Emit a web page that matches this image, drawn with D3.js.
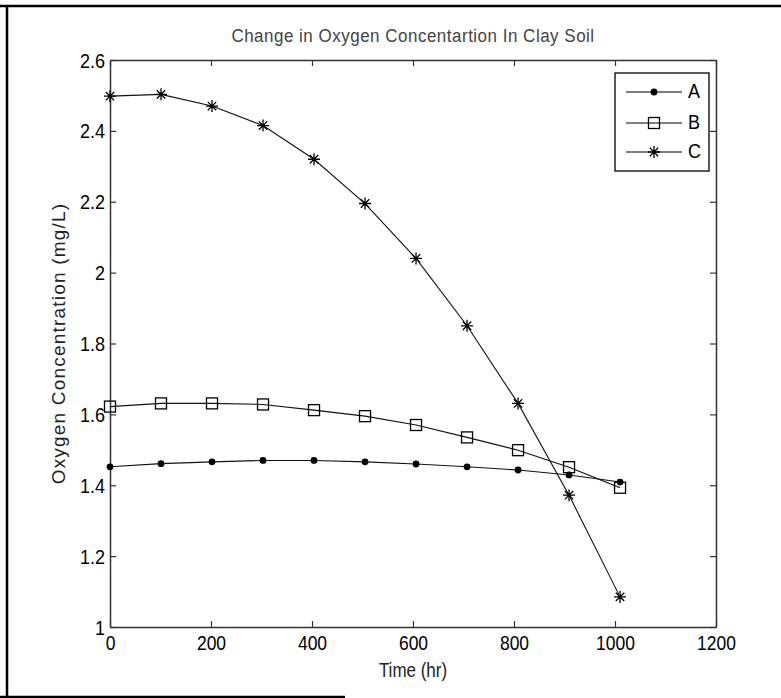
<!DOCTYPE html>
<html>
<head>
<meta charset="utf-8">
<script src="https://cdn.jsdelivr.net/npm/d3@7"></script>
<style>
  body { margin: 0; background: #fff; }
  svg { display: block; font-family: "Liberation Sans", Arial, sans-serif; }
</style>
</head>
<body>
<div id="chart"></div>
<script>
// values
var time = [0, 101, 202, 303, 404, 505, 606, 707, 808, 909, 1010];
var seriesA = [1.452, 1.461, 1.466, 1.470, 1.470, 1.466, 1.460, 1.452, 1.443, 1.429, 1.409];
var seriesB = [1.622, 1.631, 1.631, 1.628, 1.612, 1.595, 1.570, 1.535, 1.499, 1.451, 1.393];
var seriesC = [2.498, 2.503, 2.470, 2.415, 2.320, 2.195, 2.040, 1.850, 1.631, 1.372, 1.085];
var seriesNames = ["A", "B", "C"];
var xTicks = [0, 200, 400, 600, 800, 1000, 1200];
var yTicks = [1, 1.2, 1.4, 1.6, 1.8, 2, 2.2, 2.4, 2.6];

var W = 781, H = 698;
var plotL = 110, plotR = 716, plotT = 60, plotB = 627;

var svg = d3.select("#chart").append("svg")
  .attr("width", W)
  .attr("height", H);

svg.append("rect").attr("width", W).attr("height", H).attr("fill", "#fff");

// outer frame
svg.append("path")
  .attr("d", "M0,6 H781 M7,6 V697 M0,697 H345")
  .attr("stroke", "#000").attr("stroke-width", 2.5).attr("fill", "none");

var x = d3.scaleLinear().domain([0, 1200]).range([plotL, plotR]);
var y = d3.scaleLinear().domain([1, 2.6]).range([plotB, plotT]);

var ink = "#333";

// axes with inside ticks (matlab style)
var gx = svg.append("g").attr("transform", "translate(0," + plotB + ")")
  .call(d3.axisBottom(x).tickValues(xTicks).tickSizeInner(-6).tickSizeOuter(0).tickPadding(0).tickFormat(d3.format("d")));
var gy = svg.append("g").attr("transform", "translate(" + plotL + ",0)")
  .call(d3.axisLeft(y).tickValues(yTicks).tickSizeInner(-6).tickSizeOuter(0).tickPadding(5).tickFormat(function (d) { return d3.format("")(d); }));
var gt = svg.append("g").attr("transform", "translate(0," + plotT + ")")
  .call(d3.axisTop(x).tickValues(xTicks).tickSizeInner(-6).tickSizeOuter(0).tickFormat(""));
var gr = svg.append("g").attr("transform", "translate(" + plotR + ",0)")
  .call(d3.axisRight(y).tickValues(yTicks).tickSizeInner(-6).tickSizeOuter(0).tickFormat(""));

[gx, gy, gt, gr].forEach(function (g) {
  g.select(".domain").attr("stroke", ink).attr("stroke-width", 1.5);
  g.selectAll(".tick line").attr("stroke", ink).attr("stroke-width", 1.2);
});

gx.selectAll(".tick text")
  .attr("fill", "#000").attr("font-size", 17.5)
  .attr("dy", null).attr("y", 0)
  .attr("transform", "translate(0,23) scale(1,1.2)");
gy.selectAll(".tick text")
  .attr("fill", "#000").attr("font-size", 18)
  .attr("dy", null).attr("y", 0)
  .attr("transform", "translate(0,7) scale(1,1.17)");
svg.selectAll(".tick text").attr("font-family", "Liberation Sans, Arial, sans-serif");

// plot lines
var line = d3.line()
  .x(function (d) { return x(d[0]); })
  .y(function (d) { return y(d[1]); });

var allSeries = [seriesA, seriesB, seriesC];

function drawMarker(g, kind) {
  if (kind === "A") {
    g.append("circle").attr("r", 3.4).attr("fill", "#000");
  } else if (kind === "B") {
    g.append("rect").attr("x", -5.5).attr("y", -5.5).attr("width", 11).attr("height", 11)
      .attr("fill", "none").attr("stroke", "#000").attr("stroke-width", 1.3);
  } else {
    g.append("path").attr("d", "M-6,0H6M0,-6V6M-4.2,-4.2L4.2,4.2M-4.2,4.2L4.2,-4.2")
      .attr("stroke", "#000").attr("stroke-width", 1.3).attr("fill", "none");
  }
}

allSeries.forEach(function (vals, i) {
  var pts = time.map(function (t, j) { return [t, vals[j]]; });
  svg.append("path").datum(pts)
    .attr("d", line)
    .attr("fill", "none").attr("stroke", "#111").attr("stroke-width", 1.1);
  svg.append("g").selectAll("g").data(pts).join("g")
    .attr("transform", function (d) { return "translate(" + x(d[0]) + "," + y(d[1]) + ")"; })
    .each(function () { drawMarker(d3.select(this), seriesNames[i]); });
});

// title and axis labels
svg.append("text")
  .attr("transform", "translate(" + ((plotL + plotR) / 2) + ",42) scale(1,1.12)")
  .attr("text-anchor", "middle").attr("font-size", 17).attr("fill", "#444")
  .attr("letter-spacing", 0.5)
  .text("Change in Oxygen Concentartion In Clay Soil");

svg.append("text")
  .attr("transform", "translate(" + ((plotL + plotR) / 2) + ",677) scale(1,1.15)")
  .attr("text-anchor", "middle").attr("font-size", 17).attr("fill", "#222")
  .text("Time (hr)");

svg.append("text")
  .attr("transform", "translate(65," + ((plotT + plotB) / 2) + ") rotate(-90)")
  .attr("text-anchor", "middle").attr("font-size", 19).attr("fill", "#222")
  .attr("letter-spacing", 1.2)
  .text("Oxygen Concentration (mg/L)");

// legend
var lg = svg.append("g");
lg.append("rect").attr("x", 615).attr("y", 73).attr("width", 94).attr("height", 98)
  .attr("fill", "#fff").attr("stroke", "#000").attr("stroke-width", 1.3);
var legendY = [92, 123, 152];
seriesNames.forEach(function (name, i) {
  var row = lg.append("g").attr("transform", "translate(0," + legendY[i] + ")");
  row.append("line").attr("x1", 626).attr("x2", 682)
    .attr("stroke", "#000").attr("stroke-width", 1.1);
  drawMarker(row.append("g").attr("transform", "translate(654,0)"), name);
  row.append("text")
    .attr("transform", "translate(688,6) scale(1,1.1)")
    .attr("font-size", 18).attr("fill", "#000")
    .text(name);
});
</script>
</body>
</html>
